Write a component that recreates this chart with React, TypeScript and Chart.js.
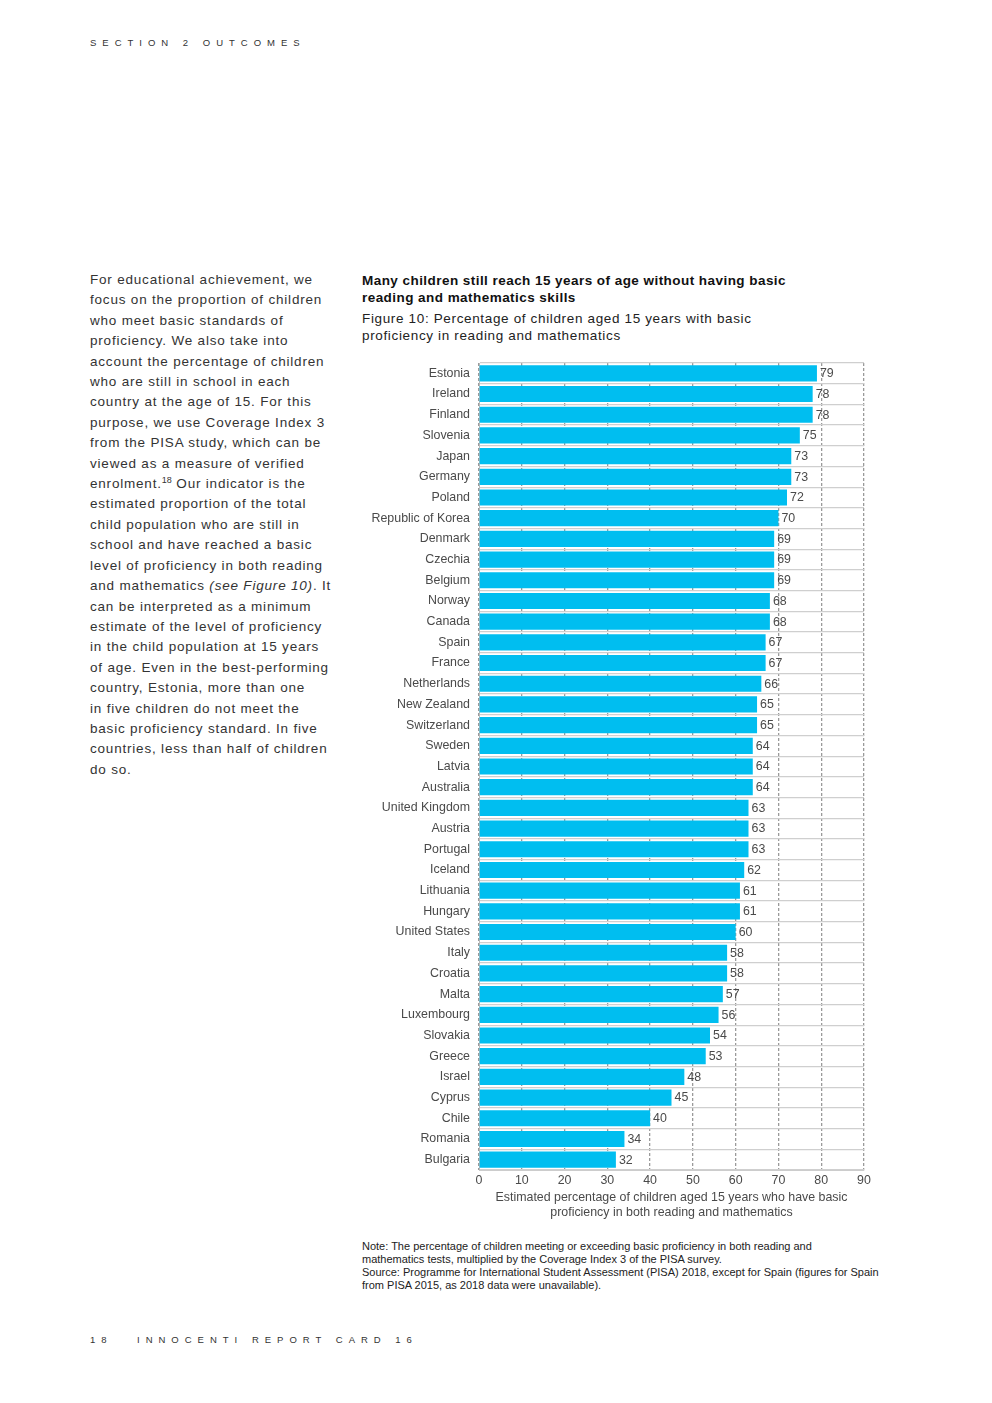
import React, { useEffect, useRef } from "react";
import { Chart, registerables } from "chart.js";

Chart.register(...registerables);

const countries = [
  "Estonia", "Ireland", "Finland", "Slovenia", "Japan", "Germany", "Poland",
  "Republic of Korea", "Denmark", "Czechia", "Belgium", "Norway", "Canada",
  "Spain", "France", "Netherlands", "New Zealand", "Switzerland", "Sweden",
  "Latvia", "Australia", "United Kingdom", "Austria", "Portugal", "Iceland",
  "Lithuania", "Hungary", "United States", "Italy", "Croatia", "Malta",
  "Luxembourg", "Slovakia", "Greece", "Israel", "Cyprus", "Chile", "Romania",
  "Bulgaria",
];
const values = [
  79, 78, 78, 75, 73, 73, 72, 70, 69, 69, 69, 68, 68, 67, 67, 66, 65, 65, 64,
  64, 64, 63, 63, 63, 62, 61, 61, 60, 58, 58, 57, 56, 54, 53, 48, 45, 40, 34, 32,
];
const xTicks = [0, 10, 20, 30, 40, 50, 60, 70, 80, 90];
const xTitle = [
  "Estimated percentage of children aged 15 years who have basic",
  "proficiency in both reading and mathematics",
];

const bodyLines = [
  "For educational achievement, we",
  "focus on the proportion of children",
  "who meet basic standards of",
  "proficiency. We also take into",
  "account the percentage of children",
  "who are still in school in each",
  "country at the age of 15. For this",
  "purpose, we use Coverage Index 3",
  "from the PISA study, which can be",
  "viewed as a measure of verified",
  "__ENROL__",
  "estimated proportion of the total",
  "child population who are still in",
  "school and have reached a basic",
  "level of proficiency in both reading",
  "__SEEFIG__",
  "can be interpreted as a minimum",
  "estimate of the level of proficiency",
  "in the child population at 15 years",
  "of age. Even in the best-performing",
  "country, Estonia, more than one",
  "in five children do not meet the",
  "basic proficiency standard. In five",
  "countries, less than half of children",
  "do so.",
];

const FONT = "'Liberation Sans', Arial, Helvetica, sans-serif";
const TEXT = "#333";
const CHART_TEXT = "#4a4a4a";
const BAR = "#00BEF0";
const CH_SIZE = 12.4;

const valueLabels = {
  id: "valueLabels",
  afterDatasetsDraw(chart: any) {
    const ctx = chart.ctx;
    const meta = chart.getDatasetMeta(0);
    ctx.save();
    ctx.font = `${CH_SIZE}px ${FONT}`;
    ctx.fillStyle = CHART_TEXT;
    ctx.textBaseline = "middle";
    ctx.textAlign = "left";
    meta.data.forEach((bar: any, i: number) => {
      ctx.fillText(String(values[i]), bar.x + 3, bar.y + 0.5);
    });
    ctx.restore();
  },
};

function BarChart() {
  const ref = useRef<HTMLCanvasElement | null>(null);
  useEffect(() => {
    if (!ref.current) return;
    const chart = new Chart(ref.current, {
      type: "bar",
      data: {
        labels: countries,
        datasets: [
          {
            data: values,
            backgroundColor: BAR,
            borderWidth: 0,
            barPercentage: 0.78,
            categoryPercentage: 1,
          },
        ],
      },
      options: {
        indexAxis: "y",
        animation: false,
        responsive: false,
        maintainAspectRatio: false,
        layout: { padding: { top: 8, right: 18, left: 0, bottom: 0 } },
        plugins: {
          legend: { display: false },
          tooltip: { enabled: false },
          title: { display: false },
        },
        scales: {
          x: {
            type: "linear",
            min: 0,
            max: 90,
            afterBuildTicks: (axis: any) => {
              axis.ticks = xTicks.map((v) => ({ value: v }));
            },
            ticks: {
              font: { family: FONT, size: CH_SIZE },
              color: CHART_TEXT,
              padding: 3,
            },
            grid: {
              color: "#9a9a9a",
              lineWidth: 1.3,
              drawTicks: false,
            },
            border: { display: true, color: "#cccccc", dash: [3, 2] },
            title: {
              display: true,
              text: xTitle,
              font: { family: FONT, size: CH_SIZE },
              color: CHART_TEXT,
              padding: { top: 4, bottom: 0 },
            },
            afterFit: (axis: any) => {
              axis.height = 50;
            },
          },
          y: {
            type: "category",
            offset: true,
            ticks: {
              font: { family: FONT, size: CH_SIZE },
              color: CHART_TEXT,
              padding: 9,
              autoSkip: false,
            },
            grid: {
              offset: true,
              color: "#cfcfcf",
              lineWidth: 1.2,
              drawTicks: false,
            },
            border: { display: true, color: "#bbbbbb" },
            afterFit: (axis: any) => {
              axis.width = 117;
              axis.paddingTop = 0;
              axis.paddingBottom = 0;
            },
          },
        },
      },
      plugins: [valueLabels],
    } as any);
    return () => chart.destroy();
  }, []);
  return (
    <canvas
      ref={ref}
      width={520}
      height={865}
      style={{ position: "absolute", left: 362, top: 355, width: 520, height: 865 }}
    />
  );
}

export default function App() {
  const abs = (left: number, top: number, extra: React.CSSProperties = {}): React.CSSProperties => ({
    position: "absolute",
    left,
    top,
    margin: 0,
    fontFamily: FONT,
    color: TEXT,
    whiteSpace: "nowrap",
    ...extra,
  });
  return (
    <div style={{ position: "relative", width: 992, height: 1403, marginTop: -8, marginLeft: -8 }}>
      <div style={abs(90, 37, { fontSize: 9.5, letterSpacing: 6.0 })}>SECTION 2 OUTCOMES</div>

      <div style={abs(90, 270, { fontSize: 13.5, lineHeight: "20.4px", letterSpacing: 0.8 })}>
        {bodyLines.map((l, i) => {
          if (l === "__ENROL__")
            return (
              <div key={i}>
                enrolment.<sup style={{ fontSize: 9, lineHeight: 0, verticalAlign: "5px", letterSpacing: 0 }}>18</sup> Our indicator is the
              </div>
            );
          if (l === "__SEEFIG__")
            return (
              <div key={i}>
                and mathematics <i>(see Figure 10)</i>. It
              </div>
            );
          return <div key={i}>{l}</div>;
        })}
      </div>

      <div style={abs(362, 272, { fontSize: 13.5, lineHeight: "17px", fontWeight: "bold", letterSpacing: 0.45, color: "#111" })}>
        <div>Many children still reach 15 years of age without having basic</div>
        <div>reading and mathematics skills</div>
      </div>
      <div style={abs(362, 310, { fontSize: 13.5, lineHeight: "17px", letterSpacing: 0.65, color: "#222" })}>
        <div>Figure 10: Percentage of children aged 15 years with basic</div>
        <div>proficiency in reading and mathematics</div>
      </div>

      <BarChart />

      <div style={abs(362, 1240, { fontSize: 11, lineHeight: "13px", color: "#222" })}>
        <div>Note: The percentage of children meeting or exceeding basic proficiency in both reading and</div>
        <div>mathematics tests, multiplied by the Coverage Index 3 of the PISA survey.</div>
        <div>Source: Programme for International Student Assessment (PISA) 2018, except for Spain (figures for Spain</div>
        <div>from PISA 2015, as 2018 data were unavailable).</div>
      </div>

      <div style={abs(90, 1334, { fontSize: 9.5, letterSpacing: 6.0 })}>18</div>
      <div style={abs(137, 1334, { fontSize: 9.5, letterSpacing: 6.0 })}>INNOCENTI REPORT CARD 16</div>
    </div>
  );
}
